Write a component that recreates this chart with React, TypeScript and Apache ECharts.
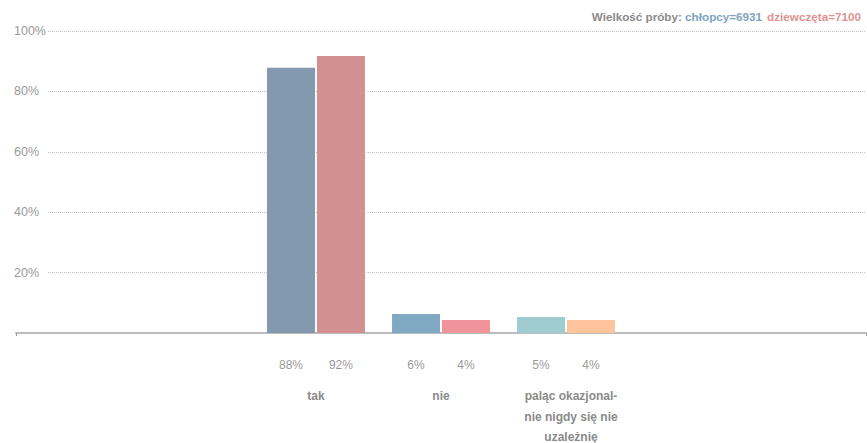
import React, { useEffect, useRef } from 'react';
import * as echarts from 'echarts';

const categories = ['tak', 'nie', 'paląc okazjonal-\nnie nigdy się nie\nuzależnię'];
const boys = [87.8, 6.3, 5.3];
const girls = [91.7, 4.3, 4.3];
const boyColors = ['#8399af', '#80a9c3', '#a0cbd1'];
const girlColors = ['#d29190', '#f0939b', '#fec49c'];
const sampleBoys = 6931;
const sampleGirls = 7100;
const yMax = 100;
const yStep = 20;

const SANS = 'Liberation Sans, Arial, sans-serif';

export default function App() {
  const ref = useRef<HTMLDivElement>(null);
  useEffect(() => {
    if (!ref.current) return;
    const chart = echarts.init(ref.current, null, { renderer: 'svg' });
    const valueLabel = {
      show: true,
      position: 'bottom',
      distance: 26,
      formatter: (p: any) => Math.round(p.value) + '%',
      color: '#9a9a9a',
      fontSize: 12,
      fontFamily: SANS,
    };
    chart.setOption({
      animation: false,
      title: {
        right: 1,
        top: 2,
        text: `{a|Wielkość próby: }{b|chłopcy=${sampleBoys}} {c|dziewczęta=${sampleGirls}}`,
        textStyle: {
          fontFamily: SANS,
          rich: {
            a: { color: '#8a8a8a', fontWeight: 'bold', fontSize: 11.7, fontFamily: SANS },
            b: { color: '#7ea3c0', fontWeight: 'bold', fontSize: 11.7, fontFamily: SANS },
            c: { color: '#e0928f', fontWeight: 'bold', fontSize: 11.7, fontFamily: SANS },
          },
        },
      },
      grid: [
        { left: 253.5, right: 238.5, top: 31, bottom: 110, outerBoundsMode: 'none', containLabel: false },
        { left: 16, right: 1, top: 31, bottom: 110, outerBoundsMode: 'none', containLabel: false },
      ],
      xAxis: [
        {
          type: 'category',
          gridIndex: 0,
          data: categories.map((c, i) =>
            i === 2 ? { value: c, textStyle: { padding: [0, 0, 0, 10] } } : c
          ),
          axisLine: { show: false },
          axisTick: { show: false },
          axisLabel: {
            margin: 53,
            color: '#8a8a8a',
            fontWeight: 'bold',
            fontSize: 12,
            lineHeight: 20.5,
            fontFamily: SANS,
            interval: 0,
          },
        },
        {
          type: 'value',
          gridIndex: 1,
          min: 0,
          max: 1,
          interval: 1,
          offset: 1,
          axisLine: { show: true, lineStyle: { color: '#bbbbbb', width: 2 } },
          axisTick: { show: true, length: 3, lineStyle: { color: '#999' } },
          axisLabel: { show: false },
          splitLine: { show: false },
        },
      ],
      yAxis: [
        { type: 'value', gridIndex: 0, min: 0, max: yMax, show: false },
        {
          type: 'value',
          gridIndex: 1,
          min: 0,
          max: yMax,
          interval: yStep,
          axisLine: { show: false },
          axisTick: { show: false },
          splitLine: { lineStyle: { type: 'dotted', color: '#c4c4c4', width: 1 } },
          axisLabel: {
            inside: true,
            margin: -2,
            showMinLabel: false,
            formatter: '{value}%',
            color: '#9a9a9a',
            fontSize: 12.5,
            fontFamily: SANS,
            backgroundColor: '#ffffff',
            width: 34,
            align: 'left',
          },
        },
      ],
      series: [
        {
          type: 'bar',
          name: 'chłopcy',
          xAxisIndex: 0,
          yAxisIndex: 0,
          barWidth: 48,
          barGap: '4%',
          data: boys.map((v, i) => ({ value: v, itemStyle: { color: boyColors[i] } })),
          label: valueLabel,
        },
        {
          type: 'bar',
          name: 'dziewczęta',
          xAxisIndex: 0,
          yAxisIndex: 0,
          barWidth: 48,
          barGap: '4%',
          data: girls.map((v, i) => ({ value: v, itemStyle: { color: girlColors[i] } })),
          label: valueLabel,
        },
      ],
    });
    return () => chart.dispose();
  }, []);
  return <div ref={ref} style={{ position: 'absolute', left: 0, top: 0, width: 867, height: 443 }} />;
}
